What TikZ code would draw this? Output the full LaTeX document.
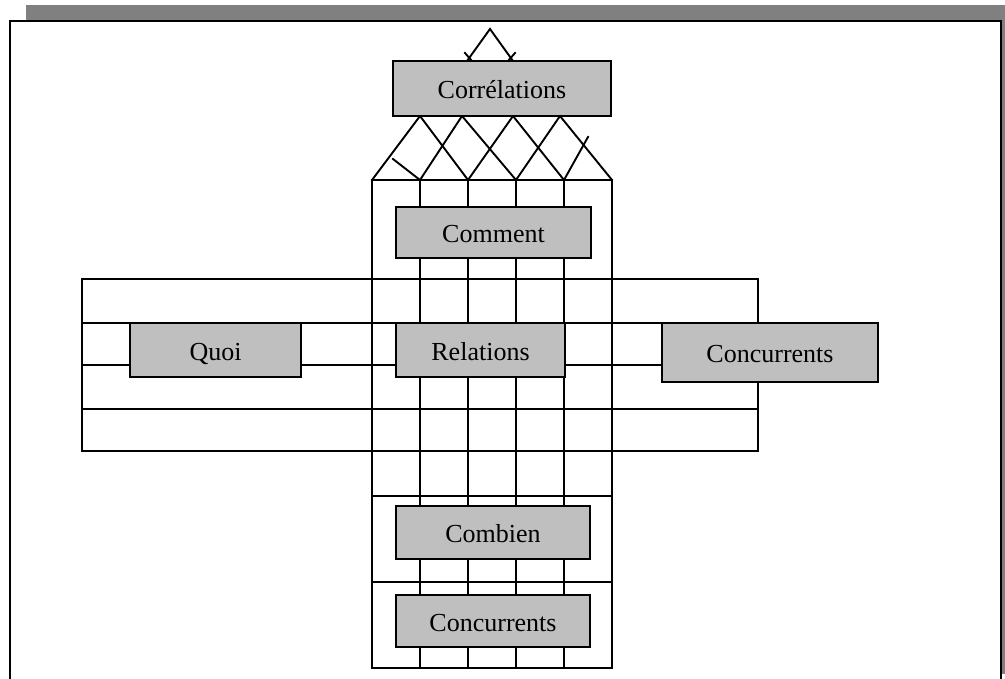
\documentclass[tikz,border=0pt]{standalone}
\usepackage{fontspec}
\setmainfont{Liberation Serif}
\begin{document}
\begin{tikzpicture}[x=1pt,y=-1pt,
  gridline/.style={line width=1.9pt, line cap=rect},
  labelbox/.style={draw, line width=2pt, fill=black!25, inner sep=0pt,
    text height=24pt, text depth=4pt,
    font=\fontsize{26}{30}\selectfont},
]
\useasboundingbox (0,0) rectangle (1005,679);
% slide shadow and frame
\fill[black!50] (26,5) rectangle (1010,674);
\filldraw[fill=white, line width=2.2pt] (10,21) rectangle (1001,700);

% roof above the top box
\draw[gridline] (467,61) -- (490,29) -- (513,61);
\draw[gridline] (465,53) -- (472,61);
\draw[gridline] (515,53) -- (508,61);

% lattice between the top box and the column
\draw[gridline] (372,180) -- (420,116) -- (468,180);
\draw[gridline] (420,180) -- (462,116) -- (516,180);
\draw[gridline] (468,180) -- (513,116) -- (564,180);
\draw[gridline] (516,180) -- (560,116) -- (612,180);
\draw[gridline] (420,180) -- (393,159);
\draw[gridline] (564,180) -- (588,137);

% central column
\foreach \x in {372,420,468,516,564,612}
  \draw[gridline] (\x,180) -- (\x,668);
\foreach \y in {180,496,582,668}
  \draw[gridline] (372,\y) -- (612,\y);

% cross bar
\foreach \y in {279,323,365,409,451}
  \draw[gridline] (82,\y) -- (758,\y);
\draw[gridline] (82,279) -- (82,451);
\draw[gridline] (758,279) -- (758,451);

% labelled boxes
\node[labelbox, minimum width=218pt, minimum height=55pt] (corr) at (502,88.5) {Corrélations};
\node[labelbox, minimum width=195pt, minimum height=51pt] (comment) at (493.5,232.5) {Comment};
\node[labelbox, minimum width=171pt, minimum height=54pt] (quoi) at (215.5,350) {Quoi};
\node[labelbox, minimum width=169pt, minimum height=54pt] (rel) at (480.5,350) {Relations};
\node[labelbox, minimum width=216pt, minimum height=59pt] (concA) at (770,352.5) {Concurrents};
\node[labelbox, minimum width=194pt, minimum height=53pt] (combien) at (493,532.5) {Combien};
\node[labelbox, minimum width=194pt, minimum height=52pt] (concB) at (493,621) {Concurrents};
\end{tikzpicture}
\end{document}
